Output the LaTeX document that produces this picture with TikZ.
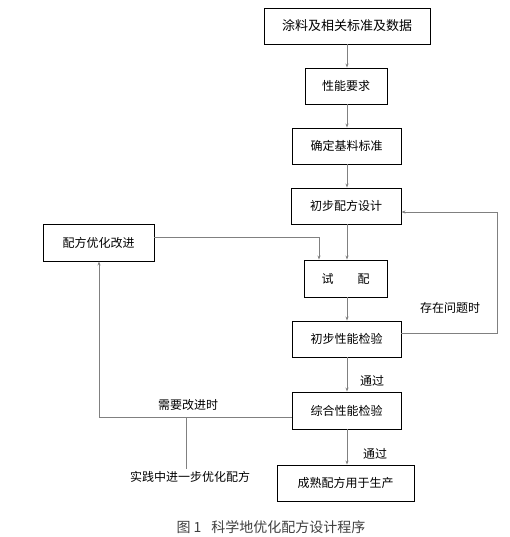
\documentclass[tikz,border=0pt]{standalone}
\usepackage{fontspec}
\setmainfont{Noto Sans CJK SC}
\usetikzlibrary{arrows.meta}
\tikzset{
  box/.style={draw=black, line width=0.9pt, minimum height=36pt, inner sep=0pt, font=\fontsize{12}{14}\selectfont},
  conn/.style={draw=black!50, line width=0.8pt},
  arr/.style={conn, -{Stealth[length=4pt,width=3pt]}},
  lbl/.style={font=\fontsize{12}{14}\selectfont, inner sep=0pt},
}
\begin{document}
\begin{tikzpicture}[x=1pt,y=-1pt]
\useasboundingbox (0,0) rectangle (509,537);
\node[box, minimum width=166pt, font=\fontsize{13}{15}\selectfont] (b1) at (347,26) {涂料及相关标准及数据};
\node[box, minimum width=82pt] (b2) at (346,86) {性能要求};
\node[box, minimum width=109pt] (b3) at (346.5,146) {确定基料标准};
\node[box, minimum width=110pt] (b4) at (346,206) {初步配方设计};
\node[box, minimum width=111pt, minimum height=37pt] (opt) at (98.5,242.5) {配方优化改进};
\node[box, minimum width=83pt, minimum height=37pt] (try) at (345.5,278.5) {试\hspace{24pt}配};
\node[box, minimum width=109pt] (chk1) at (346.5,339) {初步性能检验};
\node[box, minimum width=109pt, minimum height=37pt] (chk2) at (346.5,410.5) {综合性能检验};
\node[box, minimum width=137pt] (prod) at (345.5,483) {成熟配方用于生产};

\coordinate (mx) at (347,0);
\draw[arr] (b1.south -| mx) -- (b2.north -| mx);
\draw[arr] (b2.south -| mx) -- (b3.north -| mx);
\draw[arr] (b3.south -| mx) -- (b4.north -| mx);
\draw[arr] (b4.south -| mx) -- (try.north -| mx);
\draw[arr] (try.south -| mx) -- (chk1.north -| mx);
\draw[arr] (chk1.south -| mx) -- (chk2.north -| mx);
\draw[arr] (chk2.south -| mx) -- (prod.north -| mx);

\coordinate (fbr) at (497,212);
\draw[arr] ([yshift=6pt]chk1.east) -| (fbr) -- ([yshift=-6pt]b4.east);

\coordinate (optx) at (319,0);
\draw[arr] ([yshift=5.5pt]opt.east) -| (try.north -| optx);

\coordinate (lft) at (99,417);
\draw[arr] ([yshift=-6.5pt]chk2.west) -- (lft) -- (opt.south -| lft);

\coordinate (br1) at (186,417);
\coordinate (br2) at (186,469);
\draw[conn] (br1) -- (br2);

\node[lbl] (t1) at (372,381) {通过};
\node[lbl] (t2) at (375,454) {通过};
\node[lbl] (t3) at (450,308) {存在问题时};
\node[lbl] (t4) at (188,405) {需要改进时};
\node[lbl] (t5) at (190,477) {实践中进一步优化配方};
\node[lbl, font=\fontsize{14}{16}\selectfont, text=black!75] (cap) at (271,527) {图 1\hspace{10pt}科学地优化配方设计程序};
\end{tikzpicture}
\end{document}
